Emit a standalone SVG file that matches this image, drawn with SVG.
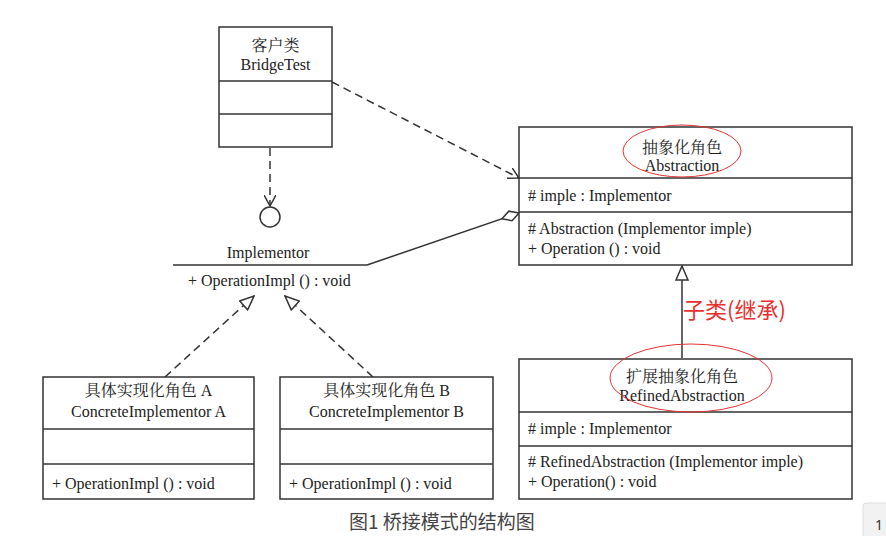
<svg xmlns="http://www.w3.org/2000/svg" width="886" height="536" viewBox="0 0 886 536">
<style>
.box{fill:#fff;stroke:#333;stroke-width:1.5}
.ln{stroke:#333;stroke-width:1.5;fill:none}
.dash{stroke:#333;stroke-width:1.5;fill:none;stroke-dasharray:8 5}
.t{font-family:"Liberation Serif","Noto Serif CJK SC","Noto Sans CJK SC",serif;font-size:16px;fill:#222}
.c{text-anchor:middle}
.red{fill:none;stroke:#e53333;stroke-width:1}
</style>
<defs>
<marker id="open" viewBox="0 0 12 12" refX="11" refY="6" markerWidth="12" markerHeight="12" markerUnits="userSpaceOnUse" orient="auto">
<path d="M0,0 L11,6 L0,12" fill="none" stroke="#333" stroke-width="1.5"/>
</marker>
<marker id="tri" viewBox="0 0 16 14" refX="15" refY="7" markerWidth="16" markerHeight="14" markerUnits="userSpaceOnUse" orient="auto">
<path d="M1,1 L15,7 L1,13 Z" fill="#fff" stroke="#333" stroke-width="1.5"/>
</marker>
<marker id="dia" viewBox="0 0 20 12" refX="19" refY="6" markerWidth="20" markerHeight="12" markerUnits="userSpaceOnUse" orient="auto">
<path d="M1,6 L10,1 L19,6 L10,11 Z" fill="#fff" stroke="#333" stroke-width="1.5"/>
</marker>
</defs>
<rect width="886" height="536" fill="#fff"/>

<g id="connectors">
<line class="dash" x1="332" y1="82" x2="519" y2="178" marker-end="url(#open)"/>
<line class="dash" x1="270" y1="148" x2="270" y2="206" marker-end="url(#open)"/>
<line class="ln" x1="367" y1="265" x2="519" y2="213" marker-end="url(#dia)"/>
<line class="ln" x1="682" y1="358" x2="682" y2="266" marker-end="url(#tri)"/>
<line class="dash" x1="165" y1="377" x2="254" y2="296" marker-end="url(#tri)"/>
<line class="dash" x1="373" y1="377" x2="285" y2="296" marker-end="url(#tri)"/>
</g>

<g id="bridgetest">
<rect class="box" x="219" y="27" width="113" height="120"/>
<line class="ln" x1="219" y1="81" x2="332" y2="81"/>
<line class="ln" x1="219" y1="114" x2="332" y2="114"/>
<text class="t c" x="275.5" y="51">客户类</text>
<text class="t c" x="275.5" y="70">BridgeTest</text>
</g>

<g id="implementor">
<circle cx="270" cy="217" r="10" fill="#fff" stroke="#333" stroke-width="1.5"/>
<text class="t c" x="268" y="258">Implementor</text>
<line class="ln" x1="173" y1="265" x2="367" y2="265"/>
<text class="t" x="188" y="286">+ OperationImpl () : void</text>
</g>

<g id="abstraction">
<rect class="box" x="519" y="127" width="333" height="138"/>
<line class="ln" x1="519" y1="178" x2="852" y2="178"/>
<line class="ln" x1="519" y1="212" x2="852" y2="212"/>
<text class="t c" x="682" y="153">抽象化角色</text>
<text class="t c" x="682" y="171">Abstraction</text>
<text class="t" x="528" y="201"># imple : Implementor</text>
<text class="t" x="528" y="234"># Abstraction (Implementor imple)</text>
<text class="t" x="528" y="254">+ Operation () : void</text>
<ellipse class="red" cx="682" cy="151" rx="59" ry="26"/>
</g>

<text x="683" y="318" font-family="'Noto Sans CJK SC','Microsoft YaHei',sans-serif" font-size="22" fill="#e83030">子类(继承)</text>

<g id="refined">
<rect class="box" x="519" y="359" width="333" height="140"/>
<line class="ln" x1="519" y1="412" x2="852" y2="412"/>
<line class="ln" x1="519" y1="446" x2="852" y2="446"/>
<text class="t c" x="682" y="382">扩展抽象化角色</text>
<text class="t c" x="682" y="401">RefinedAbstraction</text>
<text class="t" x="528" y="434"># imple : Implementor</text>
<text class="t" x="528" y="467"># RefinedAbstraction (Implementor imple)</text>
<text class="t" x="528" y="487">+ Operation() : void</text>
<ellipse class="red" cx="691" cy="378" rx="81" ry="34"/>
</g>

<g id="concreteA">
<rect class="box" x="43" y="377" width="211" height="122"/>
<line class="ln" x1="43" y1="429" x2="254" y2="429"/>
<line class="ln" x1="43" y1="464" x2="254" y2="464"/>
<text class="t c" x="148.5" y="396">具体实现化角色 A</text>
<text class="t c" x="148.5" y="417">ConcreteImplementor A</text>
<text class="t" x="52" y="489">+ OperationImpl () : void</text>
</g>

<g id="concreteB">
<rect class="box" x="280" y="377" width="213" height="122"/>
<line class="ln" x1="280" y1="429" x2="493" y2="429"/>
<line class="ln" x1="280" y1="464" x2="493" y2="464"/>
<text class="t c" x="386.5" y="396">具体实现化角色 B</text>
<text class="t c" x="386.5" y="417">ConcreteImplementor B</text>
<text class="t" x="289" y="489">+ OperationImpl () : void</text>
</g>

<text x="349" y="529" font-family="'Noto Sans CJK SC','Microsoft YaHei',sans-serif" font-size="19" fill="#444">图1 桥接模式的结构图</text>

<g id="pager">
<rect x="863" y="503" width="30" height="40" rx="3" fill="#f2f2f2" stroke="#ddd"/>
<text x="875" y="530" font-family="'Noto Sans','Liberation Sans',sans-serif" font-size="14" fill="#333">1</text>
</g>
</svg>
